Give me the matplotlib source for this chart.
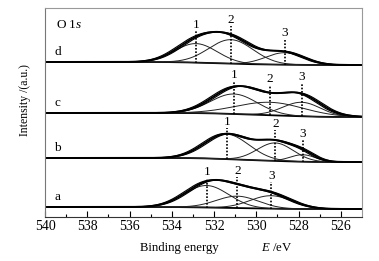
import numpy as np
import matplotlib
matplotlib.use("Agg")
import matplotlib.pyplot as plt

plt.rcParams['font.family'] = ['Liberation Serif', 'DejaVu Serif']
plt.rcParams['mathtext.fontset'] = 'custom'
plt.rcParams['mathtext.it'] = 'Liberation Serif:italic'
plt.rcParams['mathtext.rm'] = 'Liberation Serif'

# ---- data ----
spectra = ['a', 'b', 'c', 'd']
# baseline level at high-BE (left) and low-BE (right) ends
base_left = [10, 59, 104, 155]
base_right = [8, 55, 100, 152]
# component centres (eV), heights, widths (sigma, eV)
centers = [[532.35, 530.9, 529.3],
           [531.4, 529.1, 527.8],
           [531.05, 529.35, 527.85],
           [532.85, 531.2, 528.65]]
heights = [[22, 12, 13],
           [25, 18, 7],
           [20, 13, 14],
           [19, 24, 12]]
sigmas = [[1.05, 1.0, 1.0],
          [1.05, 0.85, 0.6],
          [1.1, 1.6, 0.9],
          [1.0, 1.05, 0.9]]
# y of peak-number labels
label_y = [[45, 46, 41],
           [95, 93, 83],
           [142, 138, 140],
           [192, 197, 184]]
peak_names = ['1', '2', '3']
# y of spectrum letter labels
letter_y = [20, 69, 114, 165]
xticks = [540, 538, 536, 534, 532, 530, 528, 526]

# ---- figure ----
fig = plt.figure(figsize=(3.79, 2.61), dpi=100)
ax = fig.add_axes([45/379, 1-217/261, (362-45)/379, (217-8)/261])

E = np.linspace(540, 525, 1200)


def gauss(x, c, h, s):
    return h * np.exp(-0.5 * ((x - c) / s) ** 2)


def shirley(x, total, bl, br):
    # cumulative area from low-BE side
    tt = total[::-1]
    cum = np.concatenate([[0], np.cumsum((tt[1:] + tt[:-1]) / 2)])
    cum = cum / cum[-1]
    return (br + (bl - br) * cum)[::-1]


for i in range(4):
    comps = [gauss(E, c, h, s) for c, h, s in zip(centers[i], heights[i], sigmas[i])]
    total = np.sum(comps, axis=0)
    bg = shirley(E, total, base_left[i], base_right[i])
    # background
    ax.plot(E, bg, color='black', lw=1.3)
    # components
    for comp in comps:
        ax.plot(E, bg + comp, color='#222222', lw=0.7)
    # envelope / data lines
    for dx, lw in [(0.12, 0.8), (-0.12, 0.8), (0.0, 1.4)]:
        env = bg + np.interp(E + dx, E[::-1], total[::-1])
        ax.plot(E, env, color='black', lw=lw)
    # peak markers
    for j, c in enumerate(centers[i]):
        yb = np.interp(c, E[::-1], bg[::-1])
        yt = label_y[i][j] - 6
        ax.plot([c, c], [yb, yt], color='black', lw=1.2, ls=(0, (1, 1)))
        ax.text(c, label_y[i][j], peak_names[j], ha='center', va='center', fontsize=9.5)
    ax.text(539.4, letter_y[i], spectra[i], ha='center', va='center', fontsize=9.5)

ax.text(539.5, 192, r'O 1$s$', ha='left', va='center', fontsize=9.5)

ax.set_xlim(540, 525)
ax.set_ylim(0, 209)
ax.set_yticks([])
ax.set_xticks(xticks)
ax.set_xticks(np.arange(539, 525, -2), minor=True)
ax.tick_params(axis='x', which='major', direction='in', length=4, width=0.8,
               labelsize=10, pad=2)
ax.tick_params(axis='x', which='minor', direction='in', length=2.5, width=0.8)
for s in ['top', 'right']:
    ax.spines[s].set_color('#999999')
ax.spines['left'].set_color('#777777')
ax.spines['bottom'].set_color('#333333')

fig.text(25/379, 1-100/261, 'Intensity /(a.u.)', rotation=90, ha='center', va='center',
         fontsize=8.5)
fig.text(140/379, 1-248/261, 'Binding energy', ha='left', va='center', fontsize=9.2)
fig.text(261/379, 1-248/261, r'$E$ /eV', ha='left', va='center', fontsize=9.2)

fig.savefig('out.png', dpi=100)
